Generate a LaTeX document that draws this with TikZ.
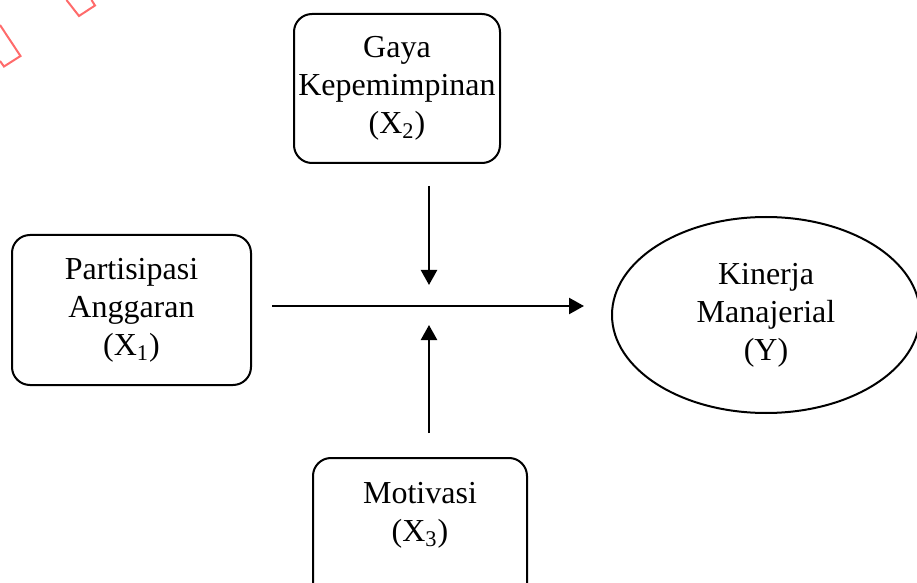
\documentclass[tikz,border=0pt]{standalone}
\usepackage{fontspec}
\setmainfont{Liberation Serif}
\usepackage{tikz}
\usetikzlibrary{arrows.meta,positioning,calc,shapes.geometric}
\definecolor{markRed}{HTML}{FF6B6B}

\begin{document}
\begin{tikzpicture}[
        x=0.5pt, y=-0.5pt,
        box/.style={draw=black, line width=1pt, rounded corners=9pt, align=center, inner sep=0pt, font=\fontsize{16pt}{19pt}\selectfont},
        oval/.style={draw=black, line width=1pt, ellipse, align=center, inner sep=0pt, minimum width=154pt, minimum height=98pt, font=\fontsize{16pt}{19pt}\selectfont},
        arrow/.style={-{Triangle[length=7.5pt, width=8pt]}, draw=black, line width=1.2pt}
    ]
        \useasboundingbox (0,0) rectangle (917,583);
        \clip (0,0) rectangle (917,583);

        % variabel
        \node[box, minimum width=103pt, minimum height=74.5pt] (gaya) at (397,88.5) {Gaya\\Kepemimpinan\\(X\textsubscript{2})};
        \node[box, minimum width=119.5pt, minimum height=75pt] (partisipasi) at (131.5,310) {Partisipasi\\Anggaran\\(X\textsubscript{1})};
        \node[box, anchor=north, minimum width=107pt, inner ysep=12pt, text depth=40pt] (motivasi) at (420,457) {Motivasi\\(X\textsubscript{3})};
        \node[oval] (kinerja) at (766,315) {Kinerja\\Manajerial\\(Y)};
        \coordinate (pusat) at (429,306);

        \draw[arrow, shorten <=10pt, shorten >=13.5pt] (partisipasi.east |- pusat) -- (kinerja.west |- pusat);
        \draw[arrow, shorten <=11pt, shorten >=10.5pt] (gaya.south -| pusat) -- (pusat);
        \draw[arrow, shorten <=12pt, shorten >=9.5pt] (motivasi.north -| pusat) -- (pusat);

        % tanda merah di pojok
        \draw[markRed, line width=1pt] (0,25) -- (20.5,56) -- (4,66.5) -- (0,61);
        \draw[markRed, line width=1pt] (66.5,0) -- (79,16) -- (95,5.5) -- (91.5,0);
    \end{tikzpicture}
\end{document}
